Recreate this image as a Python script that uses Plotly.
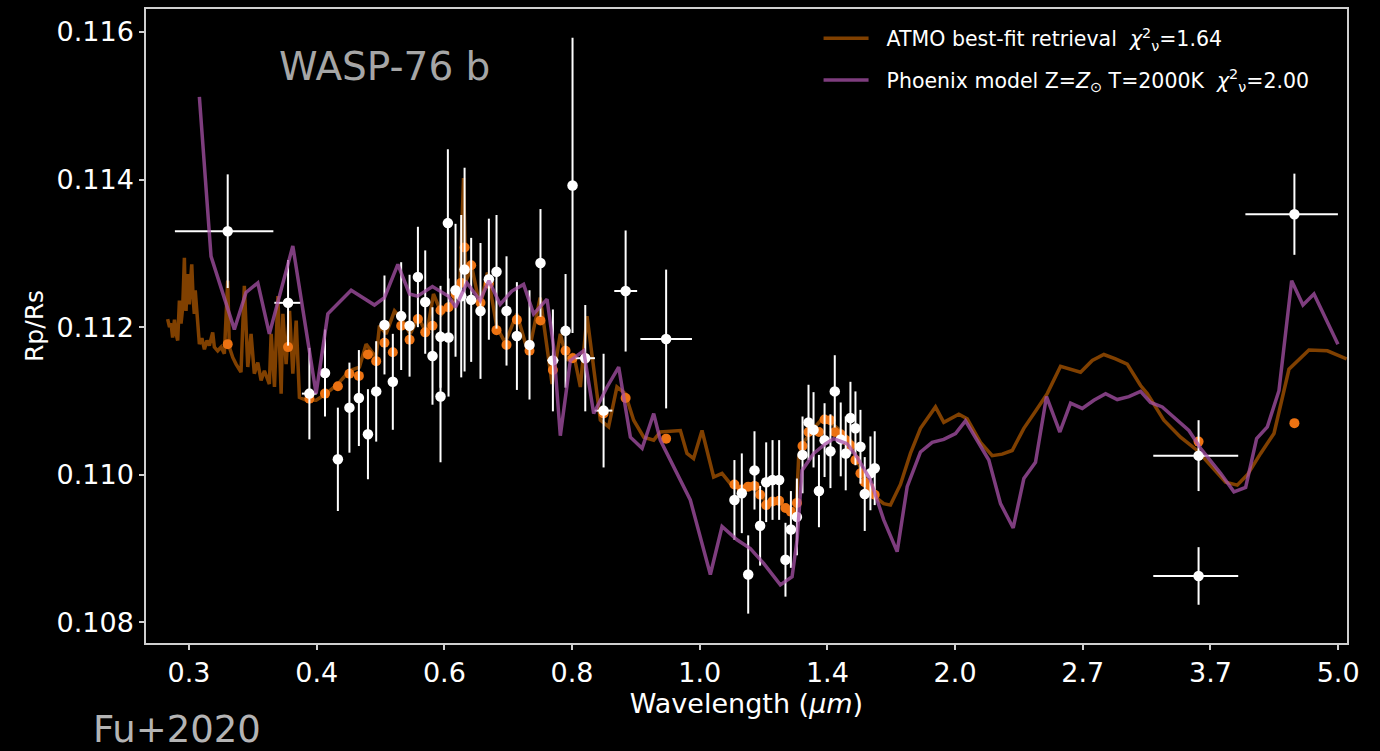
import numpy as np
import plotly.graph_objects as go

# ---------------- data ----------------
# ATMO best-fit retrieval (brown line)
atmo_wl = [0.2847, 0.2860, 0.2871, 0.2882, 0.2895, 0.2905, 0.2918, 0.2924, 0.2930, 0.2942,
           0.2954, 0.2960, 0.2966, 0.2972, 0.2978, 0.2984, 0.2990, 0.2996, 0.3002, 0.3011,
           0.3020, 0.3030, 0.3039, 0.3046, 0.3052, 0.3064, 0.3077, 0.3096, 0.3115, 0.3135,
           0.3153, 0.3179, 0.3192, 0.3218, 0.3245,
           0.3271, 0.3298, 0.3311, 0.3339, 0.3366, 0.3407, 0.3435, 0.3464, 0.3492, 0.3520,
           0.3550, 0.3579, 0.3608, 0.3652, 0.3668, 0.3698, 0.3729, 0.3759, 0.3775, 0.3805,
           0.3837, 0.3868, 0.3900, 0.3931, 0.3997, 0.4095, 0.4197, 0.4319, 0.4443, 0.4553,
           0.4628, 0.4743, 0.4782, 0.4861, 0.4961, 0.5064, 0.5155, 0.5261, 0.5370, 0.5458,
           0.5571, 0.5732, 0.5827, 0.5875, 0.5909, 0.5996, 0.6119, 0.6229, 0.6374, 0.6505,
           0.6695, 0.6887, 0.7088, 0.7297, 0.7446, 0.7570, 0.7693, 0.7820, 0.7949, 0.8080,
           0.8213, 0.8380, 0.8553, 0.8727, 0.8911, 0.9133, 0.9359, 0.9511, 0.9990, 1.0154,
           1.0319, 1.0534, 1.0838, 1.1063, 1.1290, 1.1618, 1.2000, 1.2352, 1.2761, 1.3078,
           1.3271, 1.3346, 1.3511, 1.3846, 1.4189, 1.4485, 1.4782, 1.5149, 1.5400, 1.5782,
           1.6174, 1.6437, 1.6709, 1.7123, 1.7548, 1.7984, 1.8657, 1.9040, 1.9753, 2.0163,
           2.0830, 2.1436, 2.1967, 2.2512, 2.3163, 2.3834, 2.4528, 2.5340, 2.6078, 2.6614,
           2.7388, 2.8177, 2.8993, 2.9836, 3.0825, 3.1335, 3.2634, 3.3996, 3.5415, 3.6747,
           3.7962, 3.9063, 4.0035, 4.1361, 4.2735, 4.4331, 4.6554, 4.8702, 5.1057]
atmo_rp = [0.11211, 0.11200, 0.11205, 0.11186, 0.11210, 0.11192, 0.11182, 0.11215, 0.11236, 0.11205,
           0.11227, 0.11260, 0.11294, 0.11240, 0.11222, 0.11250, 0.11272, 0.11240, 0.11231, 0.11262,
           0.11285, 0.11240, 0.11218, 0.11250, 0.11236, 0.11200, 0.11177, 0.11185, 0.11170, 0.11182,
           0.11175, 0.11193, 0.11173, 0.11168, 0.11173,
           0.11164, 0.11263, 0.11173, 0.11159, 0.11150, 0.11139, 0.11256, 0.11146, 0.11191, 0.11137,
           0.11152, 0.11128, 0.11141, 0.11123, 0.11191, 0.11119, 0.11242, 0.11110, 0.11218, 0.11150,
           0.11222, 0.11137, 0.11209, 0.11105, 0.11101, 0.11101, 0.11110, 0.11123, 0.11141, 0.11146,
           0.11177, 0.11159, 0.11202, 0.11191, 0.11222, 0.11209, 0.11191, 0.11213, 0.11191, 0.11245,
           0.11218, 0.11236, 0.11267, 0.11402, 0.11263, 0.11281, 0.11227, 0.11274, 0.11200, 0.11179,
           0.11218, 0.11164, 0.11240, 0.11123, 0.11191, 0.11155, 0.11164, 0.11119, 0.11215, 0.11146,
           0.11074, 0.11065, 0.11119, 0.11110, 0.11074, 0.11051, 0.11047, 0.11058, 0.11060, 0.11029,
           0.11022, 0.11060, 0.10997, 0.11002, 0.10988, 0.10979, 0.10984, 0.10961, 0.10961, 0.10950,
           0.10957, 0.11024, 0.11044, 0.11063, 0.11078, 0.11069, 0.11060, 0.11047, 0.11020, 0.10988,
           0.10968, 0.10961, 0.10959, 0.10987, 0.11029, 0.11063, 0.11092, 0.11071, 0.11082, 0.11076,
           0.11044, 0.11026, 0.11028, 0.11033, 0.11063, 0.11086, 0.11110, 0.11147, 0.11143, 0.11139,
           0.11155, 0.11163, 0.11157, 0.11150, 0.11121, 0.11110, 0.11074, 0.11051, 0.11033, 0.11011,
           0.10990, 0.10986, 0.11000, 0.11029, 0.11056, 0.11143, 0.11169, 0.11168, 0.11157]

# Phoenix model (purple line)
phx_wl = [0.3077, 0.3166, 0.3352, 0.3449, 0.3550, 0.3652, 0.3868, 0.4095, 0.4214, 0.4462,
          0.4724, 0.4841, 0.5002, 0.5147, 0.5249, 0.5444, 0.5663, 0.5761, 0.5924, 0.6119,
          0.6251, 0.6426, 0.6613, 0.6806, 0.6975, 0.7208, 0.7325, 0.7446, 0.7631, 0.7884,
          0.8080, 0.8349, 0.8590, 0.8840, 0.9097, 0.9359, 0.9511, 0.9990, 1.0236, 1.0751,
          1.1063, 1.1476, 1.1857, 1.2250, 1.2761, 1.3133, 1.3294, 1.3458, 1.3846, 1.4249,
          1.4541, 1.5027, 1.5400, 1.5910, 1.6437, 1.6986, 1.7408, 1.7984, 1.8507, 1.9040,
          1.9594, 2.0079, 2.0663, 2.1259, 2.1877, 2.2568, 2.3163, 2.3834, 2.4486, 2.5298,
          2.5970, 2.6725, 2.7495, 2.8295, 2.9115, 2.9954, 3.0825, 3.1590, 3.2505, 3.3444,
          3.4695, 3.5703, 3.7500, 3.8742, 3.9870, 4.0956, 4.2045, 4.3257, 4.4625, 4.5876,
          4.7130, 4.9980]
phx_rp = [0.11512, 0.11296, 0.11197, 0.11247, 0.11260, 0.11191, 0.11310, 0.11110, 0.11218, 0.11250,
          0.11230, 0.11240, 0.11285, 0.11245, 0.11242, 0.11255, 0.11242, 0.11227, 0.11260, 0.11236,
          0.11263, 0.11231, 0.11249, 0.11258, 0.11218, 0.11238, 0.11173, 0.11053, 0.11155, 0.11168,
          0.11083, 0.11119, 0.11146, 0.11051, 0.11036, 0.11083, 0.11047, 0.10993, 0.10966, 0.10865,
          0.10930, 0.10912, 0.10900, 0.10880, 0.10851, 0.10862, 0.10912, 0.11006, 0.11029, 0.11042,
          0.11049, 0.11042, 0.11024, 0.10993, 0.10939, 0.10896, 0.10984, 0.11031, 0.11044, 0.11048,
          0.11056, 0.11073, 0.11047, 0.11020, 0.10961, 0.10928, 0.10995, 0.11017, 0.11106, 0.11058,
          0.11097, 0.11090, 0.11101, 0.11110, 0.11102, 0.11106, 0.11113, 0.11098, 0.11092, 0.11078,
          0.11060, 0.11036, 0.11002, 0.10977, 0.10983, 0.11049, 0.11065, 0.11114, 0.11263, 0.11230,
          0.11245, 0.11177]

# Binned ATMO model (orange dots)
bin_wl = [0.3298, 0.3823, 0.4028, 0.4185, 0.4319, 0.4443, 0.4547, 0.4649, 0.4744, 0.4841,
          0.4941, 0.5043, 0.5148, 0.5254, 0.5349, 0.5445, 0.5553, 0.5663, 0.5761, 0.5842,
          0.5890, 0.5986, 0.6124, 0.6251, 0.6369, 0.6527, 0.6695, 0.6905, 0.7093, 0.7312,
          0.7542, 0.7672, 0.7915, 0.8278, 0.8737, 0.9648,
          1.1404, 1.1612, 1.1795, 1.1978, 1.2144, 1.2326, 1.2519, 1.2723, 1.2922, 1.3095,
          1.3289, 1.3473, 1.3672, 1.3841, 1.4026, 1.4220, 1.4426, 1.4580, 1.4794, 1.4976,
          1.5150, 1.5337, 1.5526, 1.5690, 1.5910, 1.6078,
          3.553, 4.4925]
bin_rp = [0.11177, 0.11173, 0.11103, 0.11110, 0.11120, 0.11137, 0.11134, 0.11163, 0.11154, 0.11179,
          0.11166, 0.11202, 0.11183, 0.11211, 0.11193, 0.11202, 0.11223, 0.11227, 0.11245, 0.11260,
          0.11308, 0.11284, 0.11233, 0.11259, 0.11196, 0.11176, 0.11210, 0.11168, 0.11209, 0.11142,
          0.11168, 0.11158, 0.11158, 0.11083, 0.11104, 0.11049,
          0.10987, 0.10980, 0.10984, 0.10985, 0.10973, 0.10959, 0.10964, 0.10965, 0.10955, 0.10950,
          0.10962, 0.11039, 0.11058, 0.11061, 0.11058, 0.11075, 0.11074, 0.11058, 0.11055, 0.11047,
          0.11040, 0.11020, 0.11002, 0.10990, 0.10982, 0.10973,
          0.11045, 0.11070]

# Observed transmission spectrum (white points)
obs_wl = [0.3298, 0.3823, 0.4028, 0.4185, 0.4319, 0.4443, 0.4547, 0.4649, 0.4744, 0.4841,
          0.4941, 0.5043, 0.5148, 0.5254, 0.5349, 0.5445, 0.5553, 0.5553, 0.5663, 0.5654,
          0.5761, 0.5842, 0.5890, 0.5986, 0.6124, 0.6251, 0.6369, 0.6527, 0.6695, 0.6905,
          0.7093, 0.7312, 0.7542, 0.7672, 0.7915, 0.8278, 0.8737, 0.9648,
          1.1404, 1.1612, 1.1795, 1.1978, 1.2144, 1.2326, 1.2519, 1.2723, 1.2922, 1.3095,
          1.3289, 1.3473, 1.3672, 1.3841, 1.4026, 1.4220, 1.4426, 1.4580, 1.4794, 1.4976,
          1.5150, 1.5337, 1.5526, 1.5690, 1.5910, 1.6078,
          3.553, 3.553, 4.4925]
obs_rp = [0.11330, 0.11233, 0.11110, 0.11138, 0.11021, 0.11091, 0.11104, 0.11055, 0.11113, 0.11203,
          0.11126, 0.11215, 0.11202, 0.11268, 0.11234, 0.11161, 0.11187, 0.11106, 0.11186, 0.11341,
          0.11250, 0.11242, 0.11278, 0.11237, 0.11222, 0.11265, 0.11275, 0.11222, 0.11188, 0.11176,
          0.11287, 0.11155, 0.11195, 0.11392, 0.11158, 0.11087, 0.11249, 0.11184,
          0.10966, 0.10975, 0.10865, 0.11006, 0.10931, 0.10990, 0.10993, 0.10993, 0.10885, 0.10926,
          0.10943, 0.11027, 0.11071, 0.11061, 0.10978, 0.11047, 0.11032, 0.11113, 0.11048, 0.11029,
          0.11077, 0.11063, 0.11038, 0.10974, 0.11002, 0.11009,
          0.11026, 0.10863, 0.11353]
obs_err = [0.00077, 0.00058, 0.00062, 0.00059, 0.00070, 0.00061, 0.00065, 0.00061, 0.00068, 0.00067,
           0.00065, 0.00073, 0.00069, 0.00068, 0.00070, 0.00066, 0.00069, 0.00089, 0.00080, 0.00100,
           0.00090, 0.00110, 0.00138, 0.00084, 0.00092, 0.00082, 0.00077, 0.00074, 0.00073, 0.00074,
           0.00073, 0.00069, 0.00077, 0.00200, 0.00072, 0.00077, 0.00082, 0.00094,
           0.00054, 0.00054, 0.00053, 0.00053, 0.00054, 0.00054, 0.00054, 0.00054, 0.00050, 0.00052,
           0.00052, 0.00052, 0.00051, 0.00051, 0.00049, 0.00050, 0.00050, 0.00049, 0.00050, 0.00050,
           0.00049, 0.00050, 0.00050, 0.00050, 0.00050, 0.00050,
           0.00048, 0.00039, 0.00055]
obs_xerr_lo = [0.040, 0.0126, 0.0073] + [0.0] * 28 + [0.010, 0.0, 0.0, 0.019, 0.018, 0.024, 0.059] \
    + [0.0] * 26 + [0.373, 0.373, 0.508]
obs_xerr_hi = [0.039, 0.0117, 0.0072] + [0.0] * 28 + [0.010, 0.0, 0.0, 0.019, 0.018, 0.025, 0.063] \
    + [0.0] * 26 + [0.362, 0.362, 0.505]

# axis ticks
x_tick_labels = ["0.3", "0.4", "0.6", "0.8", "1.0", "1.4", "2.0", "2.7", "3.7", "5.0"]
x_tick_vals = list(np.geomspace(0.3, 5.0, len(x_tick_labels)))
y_tick_vals = [0.108, 0.110, 0.112, 0.114, 0.116]
y_tick_labels = ["0.108", "0.110", "0.112", "0.114", "0.116"]

# ---------------- figure ----------------
FONT = "DejaVu Sans"
BROWN = "rgba(255,128,0,0.5)"
PURPLE = "rgba(168,82,168,0.75)"
ORANGE = "#ec7212"
AXIS = "#cfcfcf"
PAD = "\u00a0\u00a0"

fig = go.Figure()

fig.add_trace(go.Scatter(
    x=atmo_wl, y=atmo_rp, mode="lines",
    line=dict(color=BROWN, width=3.5),
    name=PAD + "ATMO best-fit retrieval  <i>χ</i><sup>2</sup><sub>ν</sub>=1.64",
    legendgroup="a", legendrank=1))

fig.add_trace(go.Scatter(
    x=bin_wl, y=bin_rp, mode="markers",
    marker=dict(color=ORANGE, size=10, line=dict(width=0)),
    showlegend=False))

fig.add_trace(go.Scatter(
    x=obs_wl, y=obs_rp, mode="markers",
    marker=dict(color="white", size=10.5, line=dict(width=0)),
    error_y=dict(type="data", array=obs_err, color="white", thickness=2, width=0),
    error_x=dict(type="data", array=obs_xerr_hi, arrayminus=obs_xerr_lo, symmetric=False,
                 color="white", thickness=2, width=0),
    showlegend=False))

fig.add_trace(go.Scatter(
    x=phx_wl, y=phx_rp, mode="lines",
    line=dict(color=PURPLE, width=3.5),
    name=PAD + "Phoenix model Z=<i>Z</i><sub>⊙</sub> T=2000K  <i>χ</i><sup>2</sup><sub>ν</sub>=2.00",
    legendgroup="b", legendrank=2))

fig.update_layout(
    width=1380, height=751,
    paper_bgcolor="black", plot_bgcolor="black",
    margin=dict(l=146, r=33, t=7, b=108),
    font=dict(family=FONT, color="white", size=27),
    showlegend=True,
    legend=dict(x=0.560, y=0.985, xanchor="left", yanchor="top",
                bgcolor="rgba(0,0,0,0)", borderwidth=0,
                font=dict(family=FONT, size=20.5, color="white"),
                tracegroupgap=12, itemwidth=45),
    xaxis=dict(type="log", range=[np.log10(0.270), np.log10(5.11)],
               tickmode="array", tickvals=x_tick_vals, ticktext=x_tick_labels,
               showgrid=False, zeroline=False,
               showline=True, linecolor=AXIS, linewidth=1.5, mirror=True,
               ticks="outside", ticklen=5, tickwidth=1.5, tickcolor=AXIS,
               tickfont=dict(size=27, color="white"),
               title=dict(text="Wavelength (<i>μm</i>)", font=dict(size=27, color="white"),
                          standoff=6)),
    yaxis=dict(range=[0.107722, 0.116310],
               tickmode="array", tickvals=y_tick_vals, ticktext=y_tick_labels,
               showgrid=False, zeroline=False,
               showline=True, linecolor=AXIS, linewidth=1.5, mirror=True,
               ticks="outside", ticklen=5, tickwidth=1.5, tickcolor=AXIS,
               tickfont=dict(size=27, color="white"),
               title=dict(text="Rp/Rs", font=dict(size=25, color="white"), standoff=6)),
    annotations=[
        dict(text="WASP-76 b", x=0.199, y=0.909, xref="paper", yref="paper",
             xanchor="center", yanchor="middle", showarrow=False,
             font=dict(family=FONT, size=39, color="#a6a6a6")),
        dict(text="Fu+2020", x=0.0258, y=-0.137, xref="paper", yref="paper",
             xanchor="center", yanchor="middle", showarrow=False,
             font=dict(family=FONT, size=37, color="#b4b4b4")),
    ],
)

fig.write_html("out.html")
